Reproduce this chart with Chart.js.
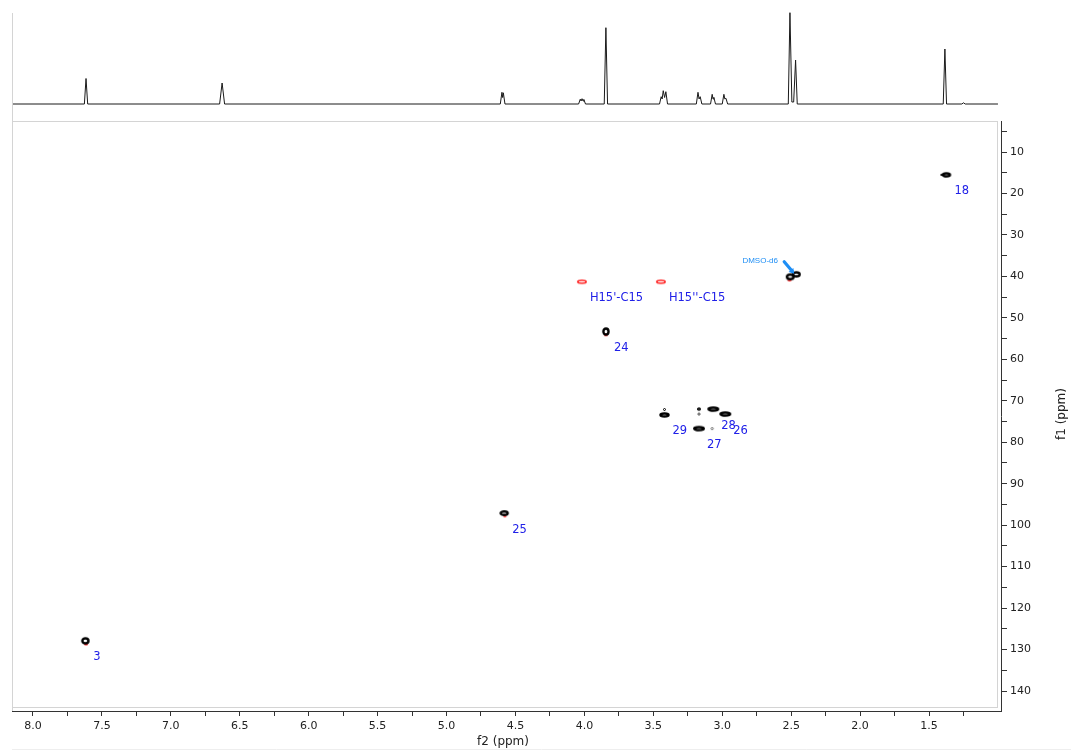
<!DOCTYPE html>
<html>
<head>
<meta charset="utf-8">
<title>HSQC</title>
<script src="https://cdn.jsdelivr.net/npm/chart.js@4.4.1/dist/chart.umd.min.js"></script>
<style>
  html, body { margin: 0; padding: 0; background: #fff; }
  #wrap { position: relative; width: 1071px; height: 752px; }
  #wrap canvas { position: absolute; left: 0; top: 0; }
</style>
</head>
<body>
<div id="wrap">
  <canvas id="proton" width="1071" height="752"></canvas>
  <canvas id="hsqc" width="1071" height="752"></canvas>
</div>
<script>
// ---- axis ranges (ppm) ----
const f2Range = [0.978, 8.152];
const f1Range = [2.52, 144.82];

// ---- tick values and labels ----
const f2Major = [8.0, 7.5, 7.0, 6.5, 6.0, 5.5, 5.0, 4.5, 4.0, 3.5, 3.0, 2.5, 2.0, 1.5];
const f2MajorLabels = ['8.0', '7.5', '7.0', '6.5', '6.0', '5.5', '5.0', '4.5', '4.0', '3.5', '3.0', '2.5', '2.0', '1.5'];
const f2Minor = [7.75, 7.25, 6.75, 6.25, 5.75, 5.25, 4.75, 4.25, 3.75, 3.25, 2.75, 2.25, 1.75, 1.25];
const f1Major = [10, 20, 30, 40, 50, 60, 70, 80, 90, 100, 110, 120, 130, 140];
const f1MajorLabels = ['10', '20', '30', '40', '50', '60', '70', '80', '90', '100', '110', '120', '130', '140'];
const f1Minor = [5, 15, 25, 35, 45, 55, 65, 75, 85, 95, 105, 115, 125, 135];

// ---- 1H projection: vertices of the trace (ppm, intensity) ----
const protonPpm = [
  8.152, 7.627, 7.615, 7.603,
  6.646, 6.628, 6.610,
  4.610, 4.598, 4.593, 4.588, 4.576,
  4.042, 4.030, 4.024, 4.017, 4.010, 4.004, 3.992,
  3.856, 3.844, 3.832,
  3.455, 3.443, 3.436, 3.428, 3.418, 3.409, 3.397,
  3.188, 3.176, 3.168, 3.160, 3.148,
  3.085, 3.073, 3.067, 3.061, 3.049,
  3.000, 2.988, 2.981, 2.973, 2.961,
  2.521, 2.509, 2.495, 2.482, 2.468, 2.456,
  1.397, 1.385, 1.373,
  1.262, 1.250, 1.238, 1.000
];
const protonInt = [
  0, 0, 25.5, 0,
  0, 21, 0,
  0, 11.7, 6.5, 11.2, 0,
  0, 4.8, 3, 5.3, 3, 4.6, 0,
  0, 76.3, 0,
  0, 7.3, 5, 13.3, 6.5, 12.3, 0,
  0, 11.7, 5, 7.3, 0,
  0, 9.7, 5, 6.7, 0,
  0, 9.7, 5, 5.7, 0,
  0, 91.3, 2, 2, 44, 0,
  0, 55, 0,
  0, 1.2, 0, 0
];

// ---- HSQC cross peaks, positive phase (f2 = 1H ppm, f1 = 13C ppm) ----
const posF2 = [7.620, 4.582, 3.844, 1.374, 2.507, 2.463, 3.419, 3.065, 2.978, 3.169, 3.419, 3.169, 3.169, 3.073, 1.405];
const posF1 = [127.9, 97.1, 53.3, 15.5, 40.1, 39.5, 73.4, 72.0, 73.2, 76.7, 72.1, 72.0, 73.2, 76.7, 15.5];
const posLabel = ['3', '25', '24', '18', '', '', '29', '28', '26', '27', '', '', '', '', ''];

// ---- HSQC cross peaks, negative phase (CH2) ----
const negF2 = [4.018, 3.445, 7.615, 4.577, 3.844, 2.512];
const negF1 = [41.3, 41.3, 128.7, 97.8, 54.1, 40.9];
const negLabel = ["H15'-C15", "H15''-C15", '', '', '', ''];

// solvent marker
const solventLabel = 'DMSO-d6';
const solventPeak = 4;

// ---- contour glyphs ----
function ring(w, h, lw, color, filled) {
  const c = document.createElement('canvas');
  c.width = Math.ceil(w + 2);
  c.height = Math.ceil(h + 2);
  const g = c.getContext('2d');
  g.beginPath();
  if (filled) {
    g.ellipse(c.width / 2, c.height / 2, w / 2, h / 2, 0, 0, Math.PI * 2);
    g.fillStyle = color;
    g.fill();
  } else {
    g.ellipse(c.width / 2, c.height / 2, (w - lw) / 2, (h - lw) / 2, 0, 0, Math.PI * 2);
    g.lineWidth = lw;
    g.strokeStyle = color;
    g.stroke();
  }
  return c;
}
const BLACK = '#000';
const RED = '#ff2a2a';
const posGlyphs = [
  ring(8.5, 7.5, 2.4, BLACK), ring(9.5, 6, 2.4, BLACK), ring(7.5, 8.5, 2.4, BLACK), ring(9.5, 5.5, 2.4, BLACK),
  ring(9, 7, 2.4, BLACK), ring(9, 6.5, 2.4, BLACK),
  ring(10.5, 5.5, 2.4, BLACK), ring(12, 5.5, 2.4, BLACK), ring(12, 5.5, 2.4, BLACK), ring(12, 5.5, 2.4, BLACK),
  ring(3, 3, 1, BLACK), ring(4, 3.5, 1.4, BLACK), ring(3.5, 2.5, 1, '#333'), ring(3.5, 3, 1, '#777'),
  ring(4, 2, 0, BLACK, true)
];
const negGlyphs = [
  ring(10, 4.5, 1.6, RED), ring(10, 4.5, 1.6, RED),
  ring(4, 2.5, 0, RED, true), ring(3, 2.5, 0, RED, true), ring(4, 2.5, 0, RED, true), ring(4, 2.5, 0, RED, true)
];

const FONT = '"DejaVu Sans", sans-serif';
const LABEL_BLUE = '#2020e8';
const SOLVENT_BLUE = '#1e8ef5';

// plot frame + axis titles + peak annotations
const decorations = {
  id: 'decorations',
  beforeDraw(chart) {
    const { ctx } = chart;
    ctx.save();
    ctx.strokeStyle = '#d4d4d4';
    ctx.lineWidth = 1;
    ctx.strokeRect(12.5, 121.5, 985, 586);
    ctx.beginPath();
    ctx.moveTo(12.5, 707); ctx.lineTo(12.5, 711);
    ctx.moveTo(12.5, 13); ctx.lineTo(12.5, 121);
    ctx.stroke();
    ctx.strokeStyle = '#eeeeee';
    ctx.beginPath();
    ctx.moveTo(12, 749.5); ctx.lineTo(1071, 749.5);
    ctx.stroke();
    ctx.restore();
  },
  afterDraw(chart) {
    const { ctx, scales: { x, y } } = chart;
    ctx.save();
    // axis titles
    ctx.fillStyle = '#222';
    ctx.font = '12px ' + FONT;
    ctx.textAlign = 'center';
    ctx.textBaseline = 'middle';
    ctx.fillText('f2 (ppm)', 503, 742);
    ctx.translate(1062, 414);
    ctx.rotate(-Math.PI / 2);
    ctx.fillText('f1 (ppm)', 0, 0);
    ctx.setTransform(1, 0, 0, 1, 0, 0);

    // assignment labels, placed just below-right of each peak
    ctx.font = '11.5px ' + FONT;
    ctx.fillStyle = LABEL_BLUE;
    ctx.textAlign = 'left';
    ctx.textBaseline = 'middle';
    const put = (f2, f1, txt) => {
      if (!txt) return;
      ctx.fillText(txt, x.getPixelForValue(f2) + 8, y.getPixelForValue(f1) + 16.5);
    };
    posLabel.forEach((t, i) => put(posF2[i], posF1[i], t));
    negLabel.forEach((t, i) => put(negF2[i], negF1[i], t));

    // solvent label with arrow
    const px = x.getPixelForValue(posF2[solventPeak]);
    const py = y.getPixelForValue(posF1[solventPeak]);
    ctx.font = '8px "Liberation Sans", Arial, sans-serif';
    ctx.fillStyle = SOLVENT_BLUE;
    ctx.textAlign = 'center';
    ctx.fillText(solventLabel, px - 30, py - 16.5);
    const x0 = px - 6, y0 = py - 15, x1 = px + 4, y1 = py - 3;
    ctx.strokeStyle = SOLVENT_BLUE;
    ctx.lineWidth = 3.2;
    ctx.lineCap = 'round';
    ctx.beginPath();
    ctx.moveTo(x0, y0); ctx.lineTo(x1 - 2, y1 - 2.5);
    ctx.stroke();
    const a = Math.atan2(y1 - y0, x1 - x0);
    ctx.fillStyle = SOLVENT_BLUE;
    ctx.beginPath();
    ctx.moveTo(x1, y1);
    ctx.lineTo(x1 - 6 * Math.cos(a - 0.55), y1 - 6 * Math.sin(a - 0.55));
    ctx.lineTo(x1 - 6 * Math.cos(a + 0.55), y1 - 6 * Math.sin(a + 0.55));
    ctx.closePath();
    ctx.fill();
    ctx.restore();
  }
};

// ---- 1H trace on top ----
new Chart(document.getElementById('proton'), {
  type: 'scatter',
  data: {
    datasets: [{
      data: protonPpm.map((p, i) => ({ x: p, y: protonInt[i] })),
      showLine: true,
      borderColor: '#1a1a1a',
      borderWidth: 1,
      pointRadius: 0,
      tension: 0,
      clip: false
    }]
  },
  options: {
    responsive: false,
    devicePixelRatio: 1,
    animation: false,
    layout: { padding: { left: 12, right: 70, top: 0, bottom: 648 } },
    plugins: { legend: { display: false }, tooltip: { enabled: false } },
    scales: {
      x: { type: 'linear', reverse: true, min: f2Range[0], max: f2Range[1], display: false },
      y: { type: 'linear', min: 0, max: 104, display: false }
    }
  }
});

// ---- 2D HSQC map ----
const tickFont = { family: FONT, size: 11 };
new Chart(document.getElementById('hsqc'), {
  type: 'scatter',
  data: {
    datasets: [
      {
        data: posF2.map((p, i) => ({ x: p, y: posF1[i] })),
        pointStyle: posGlyphs,
        pointRadius: 3
      },
      {
        data: negF2.map((p, i) => ({ x: p, y: negF1[i] })),
        pointStyle: negGlyphs,
        pointRadius: 3
      }
    ]
  },
  options: {
    responsive: false,
    devicePixelRatio: 1,
    animation: false,
    layout: { padding: { left: 12, right: 0, top: 121, bottom: 0 } },
    plugins: { legend: { display: false }, tooltip: { enabled: false } },
    scales: {
      x: {
        type: 'linear', position: 'bottom', reverse: true,
        min: f2Range[0], max: f2Range[1],
        afterBuildTicks: s => { s.ticks = f2Major.concat(f2Minor).sort((a, b) => b - a).map(v => ({ value: v })); },
        afterFit: s => { s.height = 41; },
        ticks: {
          autoSkip: false, maxRotation: 0, minRotation: 0, padding: 4,
          color: '#222', font: tickFont,
          callback: v => { const k = f2Major.indexOf(v); return k >= 0 ? f2MajorLabels[k] : ''; }
        },
        grid: { drawOnChartArea: false, drawTicks: true, tickLength: 5, tickColor: '#333' },
        border: { display: true, color: '#333', width: 1 }
      },
      y: {
        type: 'linear', position: 'right', reverse: true,
        min: f1Range[0], max: f1Range[1],
        afterBuildTicks: s => { s.ticks = f1Major.concat(f1Minor).sort((a, b) => a - b).map(v => ({ value: v })); },
        afterFit: s => { s.width = 70; },
        ticks: {
          autoSkip: false, padding: 3,
          color: '#222', font: tickFont,
          callback: v => { const k = f1Major.indexOf(v); return k >= 0 ? f1MajorLabels[k] : ''; }
        },
        grid: { drawOnChartArea: false, drawTicks: true, tickLength: 6, tickColor: '#333' },
        border: { display: true, color: '#333', width: 1 }
      }
    }
  },
  plugins: [decorations]
});
</script>
</body>
</html>
